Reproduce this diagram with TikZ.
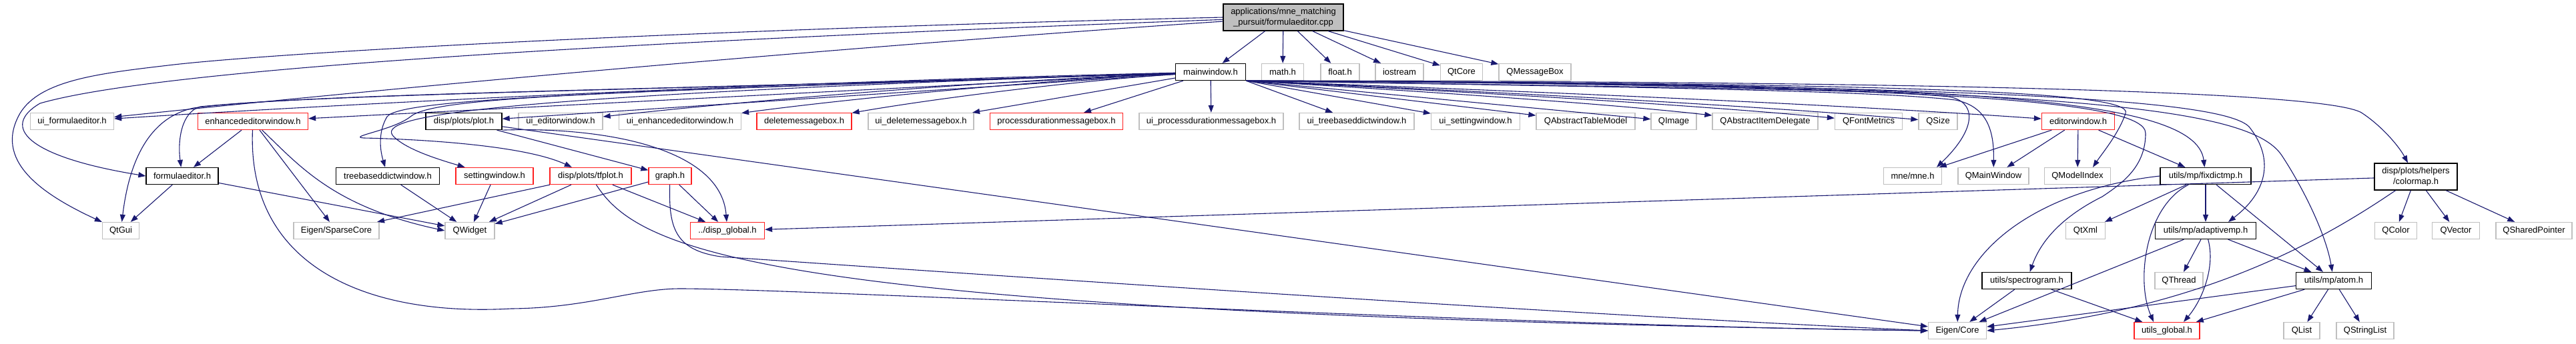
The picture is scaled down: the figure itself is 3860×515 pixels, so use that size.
\documentclass[tikz,border=0pt]{standalone}
\usepackage{fontspec}
\setmainfont{Liberation Sans}
\usetikzlibrary{arrows.meta,calc}
\definecolor{dxedge}{HTML}{191970}
\definecolor{dxgrey}{HTML}{BFBFBF}
\definecolor{dxred}{HTML}{FF2020}

\begin{document}
\begin{tikzpicture}[x=1pt,y=-1pt,
  box/.style={draw=#1,line width=1.3pt,fill=white,minimum height=25pt,inner sep=2pt,
    font=\fontsize{13}{15.5}\selectfont},
  dep/.style={draw=dxedge,line width=1.1pt,-{Triangle[length=11pt,width=8pt]}}]
  \fill[white] (0,0) rectangle (3860,515);
  \useasboundingbox (0,0) rectangle (3860,515);
  % the file itself
  \node[box=black,fill=dxgrey,minimum width=180pt,minimum height=40pt,align=center] (cpp) at (1923,26)
    {applications/mne\_matching\\\_pursuit/formulaeditor.cpp};
  \node[box=black,minimum width=124pt,minimum height=40pt,align=center] (colormap) at (3620,265)
    {disp/plots/helpers\\/colormap.h};
  % included headers
  \foreach \nm/\nx/\ny/\bw/\cl/\txt in {
    mainwin/1814/108/105/black/mainwindow.h,
    mathh/1922/108/63/dxgrey/math.h,
    floath/2008/108/58/dxgrey/float.h,
    iostream/2097/108/72/dxgrey/iostream,
    qtcore/2190/108/63/dxgrey/QtCore,
    qmsgbox/2300/108/108/dxgrey/QMessageBox,
    uiformula/108/182/125/dxgrey/ui\_formulaeditor.h,
    enhwin/379/182/165/dxred/enhancededitorwindow.h,
    plot/695/182/114/black/{disp/plots/plot.h},
    uieditor/840/182/126/dxgrey/ui\_editorwindow.h,
    uienh/1019/182/183/dxgrey/ui\_enhancededitorwindow.h,
    delbox/1205/182/142/dxred/deletemessagebox.h,
    uidel/1380/182/158/dxgrey/ui\_deletemessagebox.h,
    procbox/1583/182/199/dxred/processdurationmessagebox.h,
    uiproc/1815/182/216/dxgrey/ui\_processdurationmessagebox.h,
    uitree/2033/182/172/dxgrey/ui\_treebaseddictwindow.h,
    uiset/2211/182/133/dxgrey/ui\_settingwindow.h,
    qtablemodel/2376/182/148/dxgrey/QAbstractTableModel,
    qimage/2508/182/68/dxgrey/QImage,
    qitemdel/2645/182/158/dxgrey/QAbstractItemDelegate,
    qfontm/2800/182/101/dxgrey/QFontMetrics,
    qsize/2904/182/58/dxgrey/QSize,
    editwin/3114/182/109/dxred/editorwindow.h,
    formula/273/264/108/black/formulaeditor.h,
    treewin/581/264/155/black/treebaseddictwindow.h,
    setwin/741/264/116/dxred/settingwindow.h,
    tfplot/885/264/122/dxred/{disp/plots/tfplot.h},
    graph/1004/264/64/dxred/graph.h,
    mne/2866/264/87/dxgrey/{mne/mne.h},
    qmainwin/2987/264/106/dxgrey/QMainWindow,
    qmodelidx/3113/264/99/dxgrey/QModelIndex,
    fixdict/3305/264/136/black/{utils/mp/fixdictmp.h},
    qtgui/181/346/55/dxgrey/QtGui,
    sparse/504/346/128/dxgrey/{Eigen/SparseCore},
    qwidget/704/346/74/dxgrey/QWidget,
    dispglobal/1090/346/111/dxred/{../disp\_global.h},
    qtxml/3125/346/59/dxgrey/QtXml,
    adaptive/3305/346/151/black/{utils/mp/adaptivemp.h},
    qcolor/3590/346/63/dxgrey/QColor,
    qvector/3680/346/71/dxgrey/QVector,
    qshared/3797/346/114/dxgrey/QSharedPointer,
    spectro/3037/421/134/black/{utils/spectrogram.h},
    qthread/3265/421/72/dxgrey/QThread,
    atom/3497/421/113/black/{utils/mp/atom.h},
    eigencore/2933/496/87/dxgrey/{Eigen/Core},
    utilsglobal/3247/496/98/dxred/utils\_global.h,
    qlist/3449/496/54/dxgrey/QList,
    qstrlist/3544/496/86/dxgrey/QStringList}
    \node[box=\cl,minimum width=\bw pt] (\nm) at (\nx,\ny) {\txt};
  % straight includes
  \foreach \a/\b in {cpp/mainwin,cpp/mathh,cpp/floath,cpp/iostream,cpp/qtcore,cpp/qmsgbox,
    mainwin/uiproc,mainwin/procbox,mainwin/uidel,mainwin/plot,mainwin/enhwin,
    enhwin/formula,enhwin/sparse,formula/qtgui,formula/qwidget,treewin/qwidget,
    setwin/qwidget,tfplot/qwidget,tfplot/sparse,tfplot/dispglobal,graph/qwidget,
    graph/dispglobal,plot/graph,plot/eigencore,colormap/dispglobal,
    editwin/mne,editwin/qmainwin,editwin/qmodelidx,editwin/fixdict,
    fixdict/qtxml,fixdict/adaptive,fixdict/atom,adaptive/qthread,adaptive/atom,
    adaptive/eigencore,atom/qlist,atom/qstrlist,atom/utilsglobal,atom/eigencore,
    spectro/eigencore,spectro/utilsglobal,colormap/qcolor,colormap/qvector,colormap/qshared}
    \draw[dep] (\a) -- (\b);
  \foreach \b in {uitree,uiset,qtablemodel,qimage}
    \draw[dep] (mainwin.south east) -- (\b);
  % slightly bowed includes
  \foreach \a/\b in {mainwin/uiformula,mainwin/uieditor,mainwin/uienh,mainwin/delbox,cpp/uiformula}
    \draw[dep] (\a) .. controls ($(\a)!0.35!(\b)+(0,-12)$) and ($(\a)!0.7!(\b)+(0,-10)$) .. (\b);
  \foreach \b in {qitemdel,qfontm,qsize,editwin}
    \draw[dep] (mainwin.south east) .. controls ($(mainwin.south east)!0.35!(\b)+(0,-5)$)
      and ($(mainwin.south east)!0.7!(\b)+(0,-8)$) .. (\b);
  % long curved includes, left part
  \draw[dep] (cpp.west) .. controls (1000,45) and (400,80) .. (252,98)
    .. controls (150,110) and (60,120) .. (30,170) .. controls (-10,240) and (60,290) .. (qtgui);
  \draw[dep] (cpp) .. controls (1000,60) and (250,100) .. (60,155)
    .. controls (0,190) and (40,235) .. (formula.west);
  \draw[dep] (mainwin) .. controls (1000,135) and (500,140) .. (300,160)
    .. controls (272,168) and (266,210) .. (formula);
  \draw[dep] (mainwin) .. controls (1000,135) and (450,140) .. (290,162)
    .. controls (230,175) and (195,230) .. (qtgui);
  \draw[dep] (mainwin) .. controls (900,138) and (600,148) .. (580,175)
    .. controls (568,195) and (568,220) .. (treewin);
  \draw[dep] (mainwin) .. controls (700,145) and (560,175) .. (590,205)
    .. controls (610,225) and (660,240) .. (setwin);
  \draw[dep] (mainwin) .. controls (900,138) and (650,145) .. (615,175)
    .. controls (590,195) and (520,205) .. (545,207) .. controls (600,208) and (780,215) .. (tfplot);
  \draw[dep] (enhwin) .. controls (450,250) and (500,310) .. (qwidget.west);
  \draw[dep] (enhwin) .. controls (370,400) and (550,475) .. (766,463)
    .. controls (880,462) and (950,433) .. (1019,433) .. controls (1200,433) and (2300,490) .. (eigencore.west);
  \draw[dep] (tfplot) .. controls (960,380) and (1150,470) .. (eigencore.west);
  \draw[dep] (graph) .. controls (1002,340) and (1010,375) .. (1080,385)
    .. controls (1300,400) and (2300,470) .. (eigencore.west);
  \draw[dep] (plot.south east) .. controls (900,190) and (1080,220) .. (dispglobal);
  % long curved includes, right part
  \draw[dep] (mainwin.south east) .. controls (2400,130) and (2800,133) .. (2920,145)
    .. controls (2960,152) and (2965,190) .. ($(mne.north)+(36,0)$);
  \draw[dep] (mainwin.south east) .. controls (2400,130) and (2800,135) .. (2930,150)
    .. controls (2980,160) and (2988,200) .. (qmainwin);
  \draw[dep] (mainwin.south east) .. controls (2800,125) and (3200,135) .. (3185,170)
    .. controls (3175,200) and (3150,230) .. ($(qmodelidx.north)+(23,0)$);
  \draw[dep] (mainwin.south east) .. controls (2900,125) and (3290,140) .. (fixdict);
  \draw[dep] (mainwin.south east) .. controls (3000,128) and (3330,150) .. (3370,190)
    .. controls (3410,240) and (3395,290) .. ($(adaptive.north)+(34,0)$);
  \draw[dep] (mainwin.south east) .. controls (3100,128) and (3370,160) .. (3419,233)
    .. controls (3450,280) and (3485,350) .. (atom);
  \draw[dep] (mainwin.south east) .. controls (3000,122) and (3500,140) .. (3540,170)
    .. controls (3570,190) and (3595,220) .. ($(colormap.north)+(-12,0)$);
  \draw[dep] (mainwin.south east) .. controls (2900,128) and (3215,150) .. (3215,200)
    .. controls (3215,250) and (3180,275) .. (3150,295) .. controls (3080,330) and (3055,370) .. (spectro);
  \draw[dep] (fixdict) .. controls (3215,310) and (3200,420) .. ($(utilsglobal.north)+(-20,0)$);
  \draw[dep] (fixdict.west) .. controls (3050,285) and (2935,380) .. (eigencore);
  \draw[dep] (adaptive) .. controls (3320,400) and (3300,450) .. ($(utilsglobal.north)+(25,0)$);
  \draw[dep] (colormap) .. controls (3480,360) and (3300,465) .. (eigencore.east);
\end{tikzpicture}
\end{document}
